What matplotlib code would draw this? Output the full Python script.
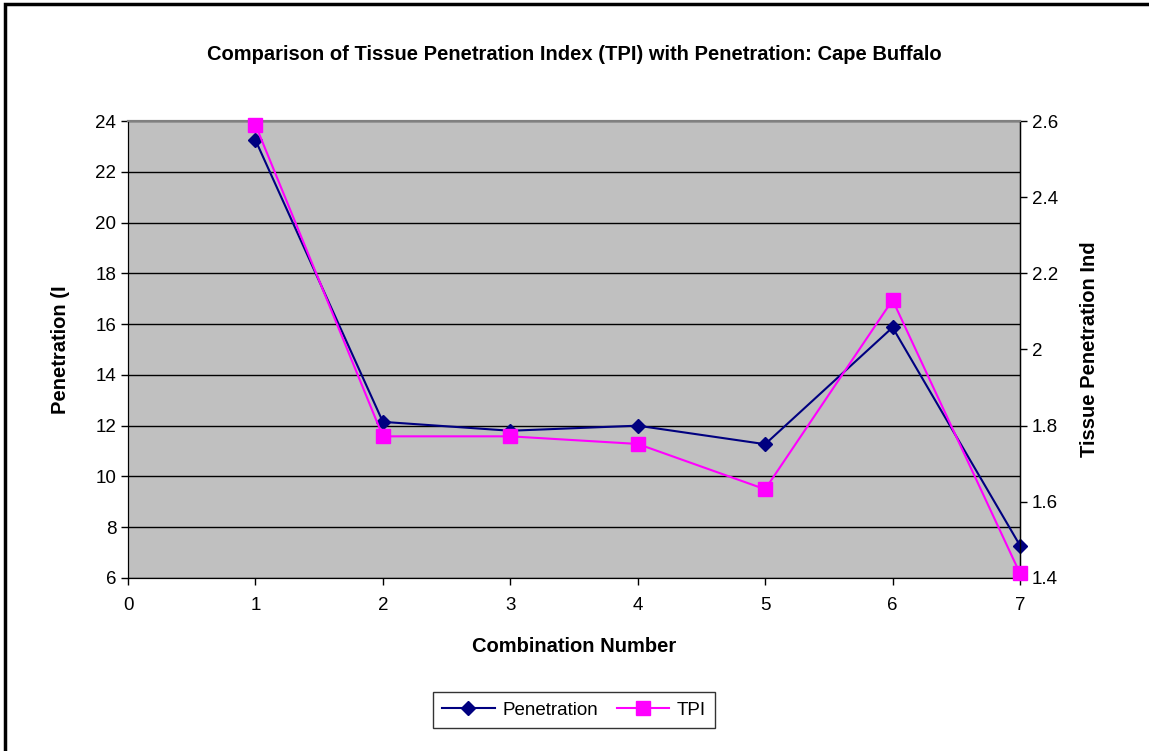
import matplotlib.pyplot as plt
import matplotlib.ticker as mticker
from matplotlib.patches import Rectangle

plt.rcParams['font.family'] = ['Liberation Sans', 'DejaVu Sans']

combination = [1, 2, 3, 4, 5, 6, 7]
penetration = [23.25, 12.15, 11.8, 12.0, 11.27, 15.87, 7.28]
tpi = [2.59, 1.772, 1.772, 1.752, 1.633, 2.13, 1.412]

fig = plt.figure(figsize=(11.49, 7.51), dpi=100)

# outer chart border (Excel style, runs off the right/bottom edge)
fig.patches.append(Rectangle((4.5 / 1149, -0.05), 1.2, 1 - 4 / 751 + 0.05,
                             transform=fig.transFigure, fill=False,
                             edgecolor='black', linewidth=2.5))

ax = fig.add_axes([128 / 1149, 1 - 578 / 751, (1020 - 128) / 1149, (578 - 121) / 751])
ax.set_facecolor('#C0C0C0')
ax2 = ax.twinx()

l1, = ax.plot(combination, penetration, color='#000080', marker='D', markersize=7,
              linewidth=1.5, label='Penetration', clip_on=False, zorder=3)
l2, = ax2.plot(combination, tpi, color='#FF00FF', marker='s', markersize=10,
               linewidth=1.5, label='TPI', clip_on=False, zorder=3)
ax.set_zorder(0)
ax2.set_zorder(1)
ax2.patch.set_visible(False)

ax.set_xlim(0, 7)
ax.set_ylim(6, 24)
ax.set_yticks(range(6, 25, 2))
ax.set_xticks(range(0, 8))
ax2.set_ylim(1.4, 2.6)
ax2.set_yticks([1.4, 1.6, 1.8, 2.0, 2.2, 2.4, 2.6])
ax2.yaxis.set_major_formatter(mticker.FormatStrFormatter('%g'))

ax.yaxis.grid(True, color='black', linewidth=1)
ax.set_axisbelow(True)

for a in (ax, ax2):
    a.tick_params(direction='out', length=5, width=1, labelsize=13.5, color='black')
    a.spines['top'].set_color('#808080')
    a.spines['top'].set_linewidth(1.5)
ax.tick_params(axis='x', pad=9)
ax2.spines['right'].set_linewidth(1)

ax.set_title('Comparison of Tissue Penetration Index (TPI) with Penetration: Cape Buffalo',
             fontsize=14.5, fontweight='bold', pad=44)
ax.set_xlabel('Combination Number', fontsize=14.5, fontweight='bold', labelpad=16)
ax.set_ylabel('Penetration (I', fontsize=14.5, fontweight='bold', labelpad=18)
ax2.set_ylabel('Tissue Penetration Ind', fontsize=14.5, fontweight='bold', labelpad=16)

fig.legend(handles=[l1, l2], loc='center', bbox_to_anchor=(574 / 1149, 1 - 710 / 751),
           ncol=2, frameon=True, fancybox=False, edgecolor='black', fontsize=13.5,
           handlelength=2.8, columnspacing=1.0, handletextpad=0.4, borderpad=0.5,
           borderaxespad=0)

fig.savefig('out.png', dpi=100)
